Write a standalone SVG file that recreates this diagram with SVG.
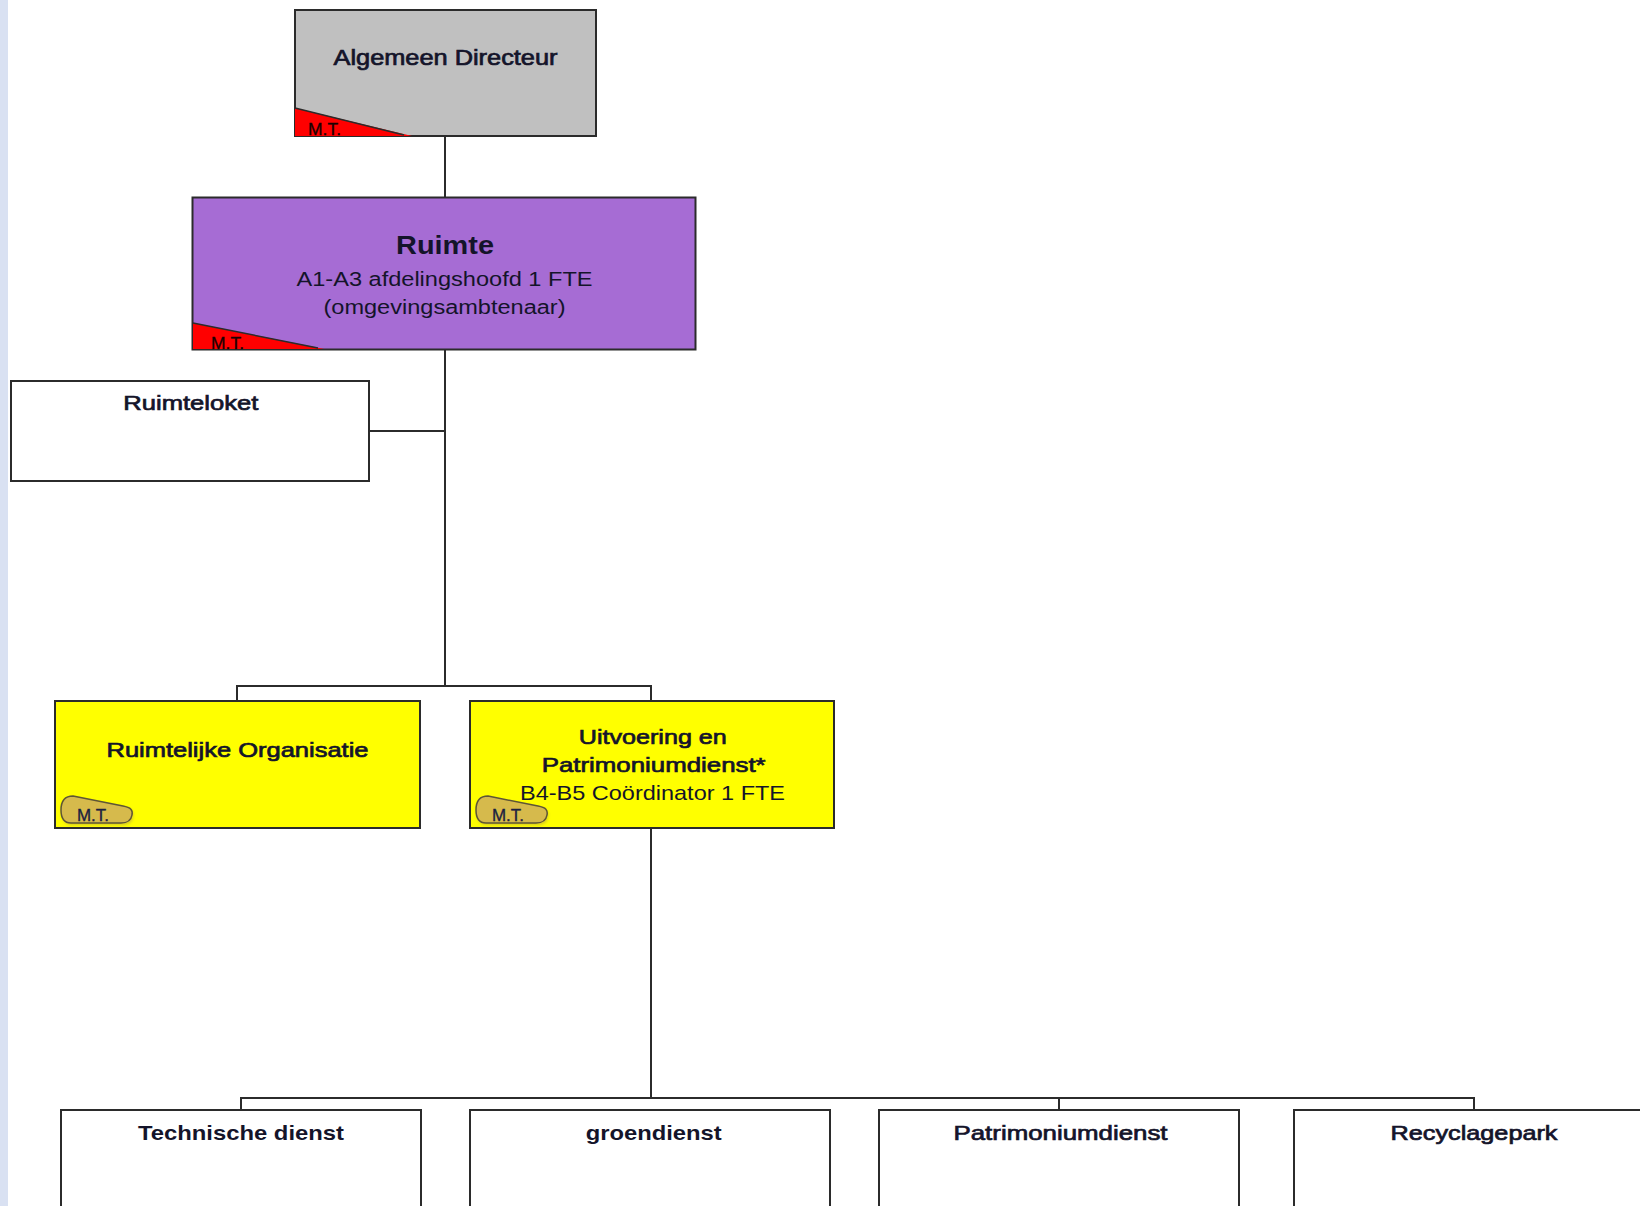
<svg xmlns="http://www.w3.org/2000/svg" width="1640" height="1206" viewBox="0 0 1640 1206">
  <style>
    .box { stroke: #2b2b2b; stroke-width: 2; }
    .conn { stroke: #2b2b2b; stroke-width: 2; fill: none; }
    text { font-family: "Liberation Sans", Arial, sans-serif; fill: #14142a; }
    .b { font-weight: bold; }
    .semi { stroke: #14142a; stroke-width: 0.7; }
    .mt { font-size: 16px; fill: #1a0000; stroke: #1a0000; stroke-width: 0.3; }
    .mtp { font-size: 16px; fill: #1a2040; stroke: #1a2040; stroke-width: 0.3; }
    .tri { fill: #ff0000; }
    .pill { fill: #d6ba4c; stroke: #5e5535; stroke-width: 1.5; }
  </style>
  <defs>
    <filter id="glow" x="-20%" y="-30%" width="140%" height="160%">
      <feGaussianBlur stdDeviation="1.5"/>
    </filter>
    <path id="pillShape" d="M12,0 L62,10 C70,11.5 72,14 71,19 C70,25 66,27 60,27 L10,27 C3,27 0,22 0,14 C0,5 4,0 12,0 Z"/>
  </defs>

  <rect x="0" y="0" width="1640" height="1206" fill="#ffffff"/>
  <rect x="0" y="0" width="8" height="1206" fill="#d9e1f2"/>

  <g id="connectors">
    <line class="conn" x1="445" y1="136" x2="445" y2="197"/>
    <line class="conn" x1="445" y1="350" x2="445" y2="686"/>
    <line class="conn" x1="369" y1="431" x2="445" y2="431"/>
    <polyline class="conn" points="237,701 237,686 651,686 651,701"/>
    <line class="conn" x1="651" y1="828" x2="651" y2="1098"/>
    <polyline class="conn" points="241,1110 241,1098 1474,1098 1474,1110"/>
    <line class="conn" x1="1059" y1="1098" x2="1059" y2="1110"/>
  </g>

  <g id="algemeen-directeur">
    <rect class="box" x="295" y="10" width="301" height="126" fill="#c0c0c0"/>
    <polygon class="tri" points="295,108 295,136 412,136"/>
    <line x1="295" y1="108" x2="404" y2="135" stroke="#2b2b2b" stroke-width="1.5"/>
    <text class="mt" x="308" y="135" textLength="33" lengthAdjust="spacingAndGlyphs">M.T.</text>
    <text class="semi" x="445.5" y="65" font-size="22" text-anchor="middle" textLength="224" lengthAdjust="spacingAndGlyphs">Algemeen Directeur</text>
  </g>

  <g id="ruimte">
    <rect class="box" x="192.5" y="197.5" width="503" height="152" fill="#a66cd4"/>
    <polygon class="tri" points="193,323 193,349 324,349"/>
    <line x1="193" y1="323" x2="318" y2="348" stroke="#2b2b2b" stroke-width="1.5"/>
    <text class="mt" x="211" y="349" textLength="33" lengthAdjust="spacingAndGlyphs">M.T.</text>
    <text class="b" x="445" y="254" font-size="25" text-anchor="middle" textLength="98" lengthAdjust="spacingAndGlyphs">Ruimte</text>
    <text x="444.5" y="286" font-size="20" text-anchor="middle" textLength="296" lengthAdjust="spacingAndGlyphs">A1-A3 afdelingshoofd 1 FTE</text>
    <text x="444.5" y="314" font-size="20" text-anchor="middle" textLength="242" lengthAdjust="spacingAndGlyphs">(omgevingsambtenaar)</text>
  </g>

  <g id="ruimteloket">
    <rect class="box" x="11" y="381" width="358" height="100" fill="#ffffff"/>
    <text class="semi" x="190.8" y="410" font-size="21" text-anchor="middle" textLength="135" lengthAdjust="spacingAndGlyphs">Ruimteloket</text>
  </g>

  <g id="ruimtelijke-organisatie">
    <rect class="box" x="55" y="701" width="365" height="127" fill="#ffff00"/>
    <use href="#pillShape" x="61" y="796" fill="#b8a040" opacity="0.6" filter="url(#glow)" transform="translate(1,2)"/>
    <use href="#pillShape" class="pill" x="61" y="796"/>
    <text class="mtp" x="77" y="821" textLength="32" lengthAdjust="spacingAndGlyphs">M.T.</text>
    <text class="semi" x="237.5" y="757" font-size="21" text-anchor="middle" textLength="262" lengthAdjust="spacingAndGlyphs">Ruimtelijke Organisatie</text>
  </g>

  <g id="uitvoering">
    <rect class="box" x="470" y="701" width="364" height="127" fill="#ffff00"/>
    <use href="#pillShape" x="476" y="796" fill="#b8a040" opacity="0.6" filter="url(#glow)" transform="translate(1,2)"/>
    <use href="#pillShape" class="pill" x="476" y="796"/>
    <text class="mtp" x="492" y="821" textLength="32" lengthAdjust="spacingAndGlyphs">M.T.</text>
    <text class="semi" x="652.8" y="744" font-size="21" text-anchor="middle" textLength="148" lengthAdjust="spacingAndGlyphs">Uitvoering en</text>
    <text class="semi" x="653.7" y="772" font-size="21" text-anchor="middle" textLength="224" lengthAdjust="spacingAndGlyphs">Patrimoniumdienst*</text>
    <text x="652.5" y="800" font-size="21" text-anchor="middle" textLength="265" lengthAdjust="spacingAndGlyphs">B4-B5 Coördinator 1 FTE</text>
  </g>

  <g id="technische-dienst">
    <rect class="box" x="61" y="1110" width="360" height="130" fill="#ffffff"/>
    <text class="b" x="241" y="1140" font-size="21" text-anchor="middle" textLength="206" lengthAdjust="spacingAndGlyphs">Technische dienst</text>
  </g>

  <g id="groendienst">
    <rect class="box" x="470" y="1110" width="360" height="130" fill="#ffffff"/>
    <text class="b" x="653.7" y="1140" font-size="21" text-anchor="middle" textLength="136" lengthAdjust="spacingAndGlyphs">groendienst</text>
  </g>

  <g id="patrimoniumdienst">
    <rect class="box" x="879" y="1110" width="360" height="130" fill="#ffffff"/>
    <text class="semi" x="1060.5" y="1140" font-size="21" text-anchor="middle" textLength="214" lengthAdjust="spacingAndGlyphs">Patrimoniumdienst</text>
  </g>

  <g id="recyclagepark">
    <rect class="box" x="1294" y="1110" width="360" height="130" fill="#ffffff"/>
    <text class="semi" x="1474" y="1140" font-size="21" text-anchor="middle" textLength="167" lengthAdjust="spacingAndGlyphs">Recyclagepark</text>
  </g>
</svg>
